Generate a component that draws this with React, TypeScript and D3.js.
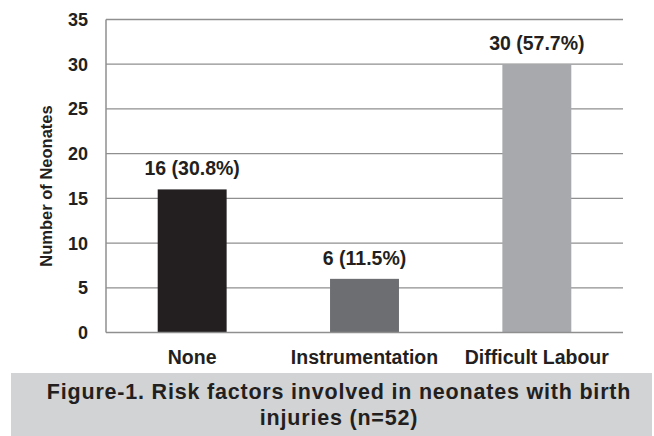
import React from "react";
import * as d3 from "d3";

const categories = ["None", "Instrumentation", "Difficult Labour"];
const counts = [16, 6, 30];
const valueLabels = ["16 (30.8%)", "6 (11.5%)", "30 (57.7%)"];
const barColors = ["#231f20", "#6d6e71", "#a7a9ac"];
const yTicks = [0, 5, 10, 15, 20, 25, 30, 35];
const yTitle = "Number of Neonates";
const captionLines = ["Figure-1. Risk factors involved in neonates with birth", "injuries (n=52)"];

export default function App() {
  const W = 654, H = 436;
  const left = 106, right = 623, top = 19.5, bottom = 332.5;
  const x = d3.scaleBand<string>().domain(categories).range([left, right]).paddingInner(0.6).paddingOuter(0.3);
  const y = d3.scaleLinear().domain([0, 35]).range([bottom, top]);
  const font = "'Liberation Sans', Arial, Helvetica, sans-serif";
  return (
    <svg width={W} height={H} style={{ position: "absolute", left: 0, top: 0 }} fontFamily={font}>
      <rect x={0} y={0} width={W} height={H} fill="#fff" />
      {yTicks.map((t) => (
        <g key={t}>
          {t > 0 && <line x1={left} x2={right} y1={y(t)} y2={y(t)} stroke="#8f8f8f" strokeWidth={1.3} />}
          <text x={88} y={y(t)} dy="0.36em" textAnchor="end" fontWeight="bold" fontSize={18} fill="#231f20">{t}</text>
        </g>
      ))}
      {categories.map((c, i) => (
        <g key={c}>
          <rect x={x(c)} y={y(counts[i])} width={x.bandwidth()} height={bottom - y(counts[i])} fill={barColors[i]} />
          <text x={x(c)! + x.bandwidth() / 2} y={y(counts[i]) - 14} textAnchor="middle" fontWeight="bold" fontSize={19.5} fill="#231f20">{valueLabels[i]}</text>
          <text x={x(c)! + x.bandwidth() / 2} y={364} textAnchor="middle" fontWeight="bold" fontSize={19.5} fill="#231f20">{c}</text>
        </g>
      ))}
      <line x1={left} x2={left} y1={top} y2={bottom} stroke="#8f8f8f" strokeWidth={1.5} />
      <line x1={left} x2={right} y1={bottom} y2={bottom} stroke="#8f8f8f" strokeWidth={1.5} />
      <text transform={`translate(52,186) rotate(-90)`} textAnchor="middle" fontWeight="bold" fontSize={16.5} fill="#231f20">{yTitle}</text>
      <rect x={11} y={373} width={641} height={H - 373} fill="#d1d3d4" />
      {captionLines.map((l, i) => (
        <text key={i} x={339} y={399 + i * 26} textAnchor="middle" fontWeight="bold" fontSize={21.5} letterSpacing={0.8} fill="#231f20">{l}</text>
      ))}
    </svg>
  );
}
